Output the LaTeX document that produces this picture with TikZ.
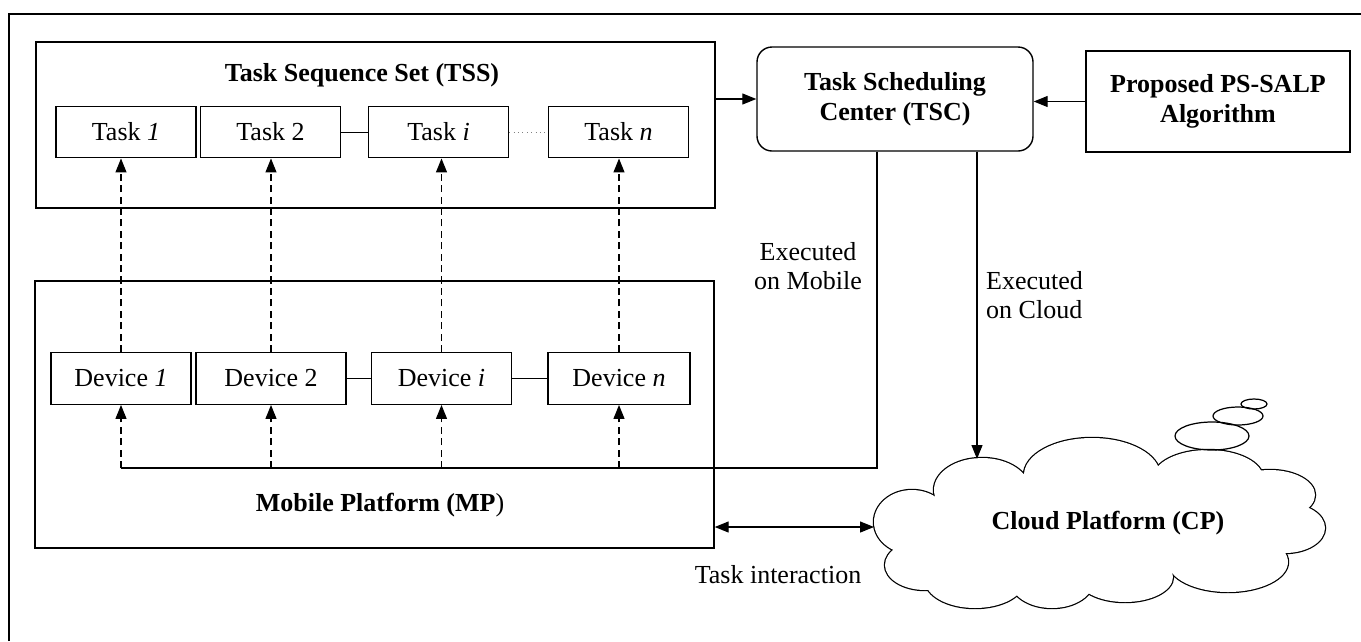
\documentclass[tikz,border=0pt]{standalone}
\usepackage{fontspec}
\setmainfont{Liberation Serif}
\usepackage{tikz}
\usetikzlibrary{arrows.meta, positioning}
\newcommand{\figsize}{\fontsize{14.8pt}{16.8pt}\selectfont}
% puffs of the cloud: centre x / centre y / x radius / y radius
\newcommand{\cloudpuffs}{982/490/48/32, 912/522/38/32, 925/565/40/25, 975/580/50/28,
  1052/580/42/28, 1125/577/48/25, 1228/562/60/30, 1285/528/40/25, 1270/495/45/25,
  1208/478/55/28, 1092/475/68/37}
\tikzset{
  box/.style={draw, line width=0.8pt, align=center, inner sep=2pt},
  unit/.style={box, minimum width=2.8cm, minimum height=1.03cm},
  group/.style={draw, line width=0.8pt},
  arrow/.style={-{Triangle[length=2.8mm, width=2.2mm]}, line width=0.7pt},
  twoway/.style={{Triangle[length=2.8mm, width=2.2mm]}-{Triangle[length=2.8mm, width=2.2mm]}, line width=0.7pt},
  request/.style={arrow, dash pattern=on 4pt off 2.5pt},
  link/.style={line width=0.5pt},
  title/.style={font=\figsize\bfseries, align=center},
  note/.style={align=center},
  every node/.style={font=\figsize}
}

\begin{document}
\begin{tikzpicture}[x=0.2mm, y=-0.2mm]
    \useasboundingbox (0,0) rectangle (1361,641);
    \draw[group] (9,641) -- (9,14) -- (1361,14);

    \node[group, minimum width=13.58cm, minimum height=3.32cm] (tss) at (375.5,125) {};
    \node[title] (tsstitle) at (362,75) {Task Sequence Set (TSS)};
    \node[unit] (task1) at (126,132) {Task \textit{1}};
    \node[unit] (task2) at (270.5,132) {Task 2};
    \node[unit] (taski) at (438.5,132) {Task \textit{i}};
    \node[unit] (taskn) at (618.5,132) {Task \textit{n}};
    \draw[link] (task2) -- (taski);
    \draw[link, dotted, gray] (taski) -- (taskn);

    \node[group, minimum width=13.58cm, minimum height=5.34cm] (mp) at (374.5,414.5) {};
    \node[title] (mptitle) at (380,505) {Mobile Platform (MP\textmd{)}};
    \node[unit] (dev1) at (121,378.5) {Device \textit{1}};
    \node[unit, minimum width=3cm] (dev2) at (271,378.5) {Device 2};
    \node[unit] (devi) at (441.5,378.5) {Device \textit{i}};
    \node[unit, minimum width=2.84cm] (devn) at (619,378.5) {Device \textit{n}};
    \draw[link] (dev2) -- (devi);
    \draw[link] (devi) -- (devn);
    \foreach \d/\t in {dev1/task1, dev2/task2, devi/taski, devn/taskn}
        \draw[request] (\d.north) -- (\d.north |- \t.south);

    \node[box, rounded corners=0.3cm, minimum width=5.52cm, minimum height=2.08cm, font=\figsize\bfseries] (tsc) at (895,99) {Task Scheduling\\Center (TSC)};
    \node[box, minimum width=5.28cm, minimum height=2.02cm, font=\figsize\bfseries] (algo) at (1218,101.5) {Proposed PS-SALP\\Algorithm};
    \draw[arrow] (tss.east |- tsc.west) -- (tsc.west);
    \draw[arrow] (algo.west) -- (algo.west -| tsc.east);

    \coordinate (bus) at (877,468);
    \draw[line width=0.7pt] (tsc.south -| bus) -- (bus) -- (bus -| dev1.south);
    \foreach \d in {dev1, dev2, devi, devn}
        \draw[request] (\d.south |- bus) -- (\d.south);
    \node[note] (onmobile) at (808,266) {Executed\\on Mobile};

    % cloud: stroke every puff, then paint the insides white
    \foreach \cx/\cy/\rx/\ry in \cloudpuffs
        \draw[line width=1.4pt] (\cx,\cy) ellipse [x radius=\rx*0.2mm, y radius=\ry*0.2mm];
    \foreach \cx/\cy/\rx/\ry in \cloudpuffs
        \fill[white] (\cx,\cy) ellipse [x radius=\rx*0.2mm, y radius=\ry*0.2mm];
    \fill[white] (1100,528) ellipse [x radius=160*0.2mm, y radius=50*0.2mm];
    \fill[white] (950,548) ellipse [x radius=22*0.2mm, y radius=14*0.2mm];
    \draw[line width=0.7pt] (1212,436) ellipse [x radius=0.74cm, y radius=0.28cm];
    \draw[line width=0.7pt] (1238,416) ellipse [x radius=0.5cm, y radius=0.18cm];
    \draw[line width=0.7pt] (1254,404) ellipse [x radius=0.26cm, y radius=0.1cm];
    \node[title] (cp) at (1108,523) {Cloud Platform (CP)};
    \coordinate (cptop) at (977,459);
    \coordinate (cpwest) at (874,527);

    \draw[arrow] (tsc.south -| cptop) -- (cptop);
    \node[note, align=left, anchor=west] (oncloud) at (980,295) {Executed\\on Cloud};

    \draw[twoway] (mp.east |- cpwest) -- (cpwest);
    \node[note] (interact) at (778,575) {Task interaction};
\end{tikzpicture}
\end{document}
